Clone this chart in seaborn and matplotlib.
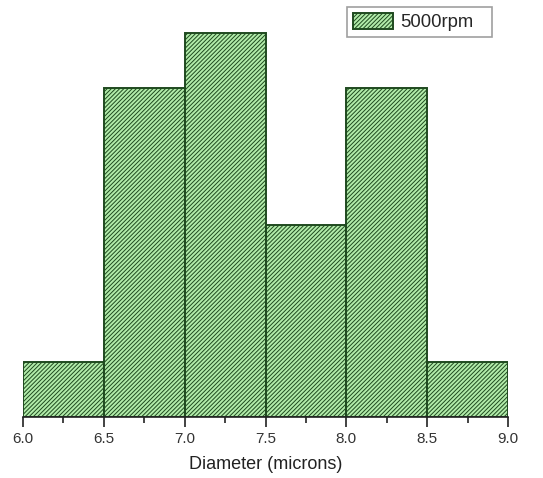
import matplotlib
matplotlib.use("Agg")
import matplotlib.pyplot as plt
import seaborn as sns
import numpy as np
from matplotlib.ticker import MultipleLocator

# Particle diameter histogram (counts per 0.5 micron bin)
bin_edges = [6.0, 6.5, 7.0, 7.5, 8.0, 8.5, 9.0]
bin_centers = [6.25, 6.75, 7.25, 7.75, 8.25, 8.75]
counts = [2, 12, 14, 7, 12, 2]
series_label = "5000rpm"
x_label = "Diameter (microns)"
tick_values = [6.0, 6.5, 7.0, 7.5, 8.0, 8.5, 9.0]

sns.set_style("white")
plt.rcParams["font.family"] = ["Liberation Sans", "DejaVu Sans"]
plt.rcParams["hatch.linewidth"] = 0.7

fig = plt.figure(figsize=(5.43, 4.78), dpi=100)
ax = fig.add_axes([23 / 543, 1 - 417 / 478, 485 / 543, 417 / 478])

face = "#b2ecaa"
edge = "#1f4a1f"

sns.histplot(x=bin_centers, weights=counts, bins=bin_edges, ax=ax,
             stat="count", element="bars", fill=True,
             color=face, alpha=1.0, edgecolor=edge, linewidth=1.4)

for p in ax.patches:
    p.set_facecolor(face)
    p.set_edgecolor(edge)
    p.set_hatch("////////")

ax.set_xlim(6.0, 9.0)
ax.set_ylim(0, 417 / 27.4)

for side in ["left", "right", "top"]:
    ax.spines[side].set_visible(False)
ax.spines["bottom"].set_color("#222222")
ax.spines["bottom"].set_linewidth(1.2)

ax.set_yticks([])
ax.set_ylabel("")
ax.set_xticks(tick_values)
ax.set_xticklabels([f"{v:.1f}" for v in tick_values], fontsize=11, color="#333333")
ax.xaxis.set_minor_locator(MultipleLocator(0.25))
ax.tick_params(axis="x", which="major", direction="out", length=7, width=1.2,
               color="#222222", bottom=True, pad=4)
ax.tick_params(axis="x", which="minor", direction="out", length=4, width=1.2,
               color="#222222", bottom=True)
ax.set_xlabel(x_label, fontsize=13, color="#222222", labelpad=7)

handle = ax.patches[0]
leg = ax.legend([handle], [series_label], loc="upper left",
                bbox_to_anchor=(347 / 543, 1 - 37 / 478, 145 / 543, 30 / 478),
                bbox_transform=fig.transFigure, mode="expand",
                fontsize=13.3, frameon=True, fancybox=False,
                handlelength=2.2, handleheight=1.0, handletextpad=0.4,
                borderpad=0.3, borderaxespad=0)
leg.get_frame().set_edgecolor("#888888")
leg.get_frame().set_linewidth(1.2)

fig.savefig("out.png", dpi=100)
